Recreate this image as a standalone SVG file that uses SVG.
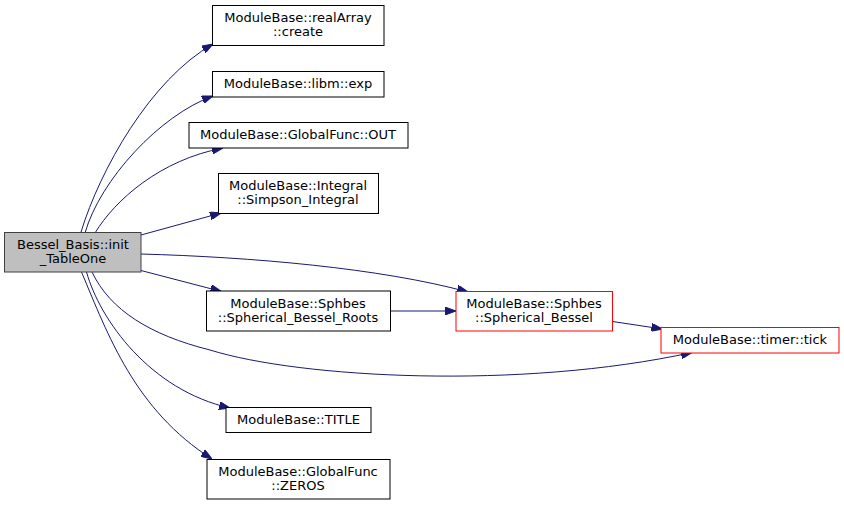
<svg xmlns="http://www.w3.org/2000/svg" width="844" height="505" viewBox="0 0 844 505">
<defs>
<style>
.n rect{fill:#fff;stroke:#000;stroke-width:1}
.n.r rect{stroke:#ff0000}
.n.g rect{fill:#bfbfbf;stroke:#404040}
.n text{font-family:"DejaVu Sans","Liberation Sans",sans-serif;font-size:13px;fill:#000;text-anchor:middle}
.e path{fill:none;stroke:#191970;stroke-width:1;marker-end:url(#ah)}
</style>
<marker id="ah" viewBox="0 0 11 8" refX="11" refY="4" markerWidth="11" markerHeight="8" markerUnits="userSpaceOnUse" orient="auto">
<polygon points="0,0 11,4 0,8" fill="#191970" stroke="#191970"/>
</marker>
</defs>
<rect width="844" height="505" fill="#fff"/>
<g class="e" id="edges">
<path d="M81,232 C100,170 150,80 213,44"/>
<path d="M85,233 C100,180 160,115 213,96"/>
<path d="M95,233 C115,200 160,160 223,148"/>
<path d="M141,235 L221,213"/>
<path d="M141,254 C250,257 380,268 468,292"/>
<path d="M141,270.5 L221.5,291.5"/>
<path d="M390.5,311 L456,311"/>
<path d="M612.5,321.5 L662.5,329"/>
<path d="M92,272 C110,310 150,335 210,350 C300,378 520,390 692,352.5"/>
<path d="M86.5,272 C100,320 150,390 230,408"/>
<path d="M81.5,272 C108,335 135,410 212,459"/>
</g>
<g class="n g" id="init_TableOne"><rect x="4.5" y="232.5" width="136.5" height="39.5"/><text x="73" y="249">Bessel_Basis::init</text><text x="73" y="262.5">_TableOne</text></g>
<g class="n" id="realArray_create"><rect x="212.5" y="5.5" width="171.5" height="40"/><text x="298" y="22">ModuleBase::realArray</text><text x="298" y="36">::create</text></g>
<g class="n" id="libm_exp"><rect x="212.5" y="71.5" width="171.5" height="25.5"/><text x="298" y="88.3">ModuleBase::libm::exp</text></g>
<g class="n" id="GlobalFunc_OUT"><rect x="189" y="122.5" width="219" height="25.5"/><text x="298" y="139.2">ModuleBase::GlobalFunc::OUT</text></g>
<g class="n" id="Simpson_Integral"><rect x="218.5" y="173.5" width="160" height="40"/><text x="298" y="190">ModuleBase::Integral</text><text x="298" y="204">::Simpson_Integral</text></g>
<g class="n" id="Spherical_Bessel_Roots"><rect x="206.5" y="291" width="184" height="40"/><text x="298" y="307.5">ModuleBase::Sphbes</text><text x="298" y="321.5">::Spherical_Bessel_Roots</text></g>
<g class="n r" id="Spherical_Bessel"><rect x="456" y="291.5" width="156.5" height="39.5"/><text x="534" y="308">ModuleBase::Sphbes</text><text x="534" y="322">::Spherical_Bessel</text></g>
<g class="n r" id="timer_tick"><rect x="661" y="327.5" width="178" height="25.5"/><text x="750" y="344.2">ModuleBase::timer::tick</text></g>
<g class="n" id="TITLE"><rect x="226" y="407.5" width="145" height="25"/><text x="298.5" y="424">ModuleBase::TITLE</text></g>
<g class="n" id="GlobalFunc_ZEROS"><rect x="207" y="459.5" width="183" height="39.5"/><text x="298" y="476">ModuleBase::GlobalFunc</text><text x="298" y="490">::ZEROS</text></g>
</svg>
